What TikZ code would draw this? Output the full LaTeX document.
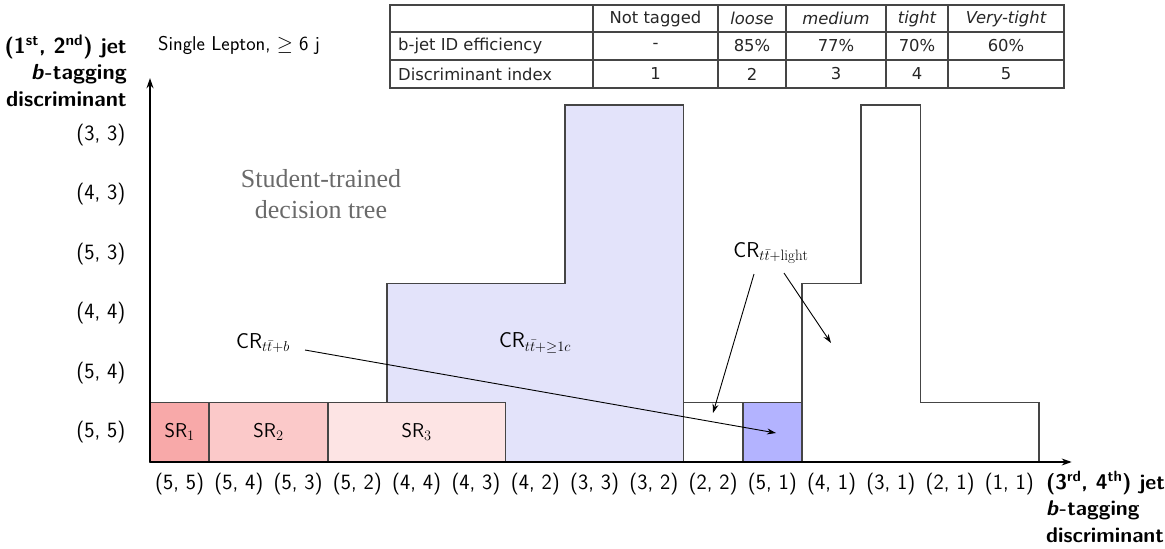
\documentclass[tikz,border=0pt]{standalone}
\usepackage{fontspec}
\newfontfamily\tabfont{DejaVu Sans}
\newfontfamily\notefont{Liberation Serif}
\usetikzlibrary{arrows.meta}

\definecolor{edge}{HTML}{454545}
\definecolor{srone}{HTML}{F8A9A9}
\definecolor{srtwo}{HTML}{FBC9C9}
\definecolor{srthree}{HTML}{FDE4E4}
\definecolor{ccfill}{HTML}{E3E3FA}
\definecolor{bfill}{HTML}{B3B3FF}
\definecolor{notegrey}{HTML}{6A6A6A}

\tikzset{
  region/.style={draw=edge, line width=1.7pt},
  lab/.style={font=\sffamily\fontsize{20}{24}\selectfont, inner sep=2pt},
  binlab/.style={font=\sffamily\fontsize{21.8}{26}\selectfont, inner sep=2pt},
  crlab/.style={font=\sffamily\fontsize{21.5}{26}\selectfont, inner sep=2pt},
  axistitle/.style={font=\sffamily\bfseries\fontsize{21.8}{26.5}\selectfont, inner sep=0pt},
  arr/.style={-{Stealth[length=9pt,width=6pt]}, line width=0.9pt},
  axisline/.style={-{Stealth[length=10pt,width=7pt]}, line width=1.1pt},
  tabline/.style={draw=edge, line width=1.2pt},
  tabtext/.style={font=\tabfont\fontsize{16.4}{19}\selectfont, text=black!85, inner sep=0pt},
}

\begin{document}
\begin{tikzpicture}[x=1pt, y=-1pt]
\useasboundingbox (0,0) rectangle (1165,549);

% ---------- tag-bin grid (one unit = one bin) ----------
\begin{scope}[xshift=150pt, yshift=-462pt, x=59.27pt, y=59.5pt]
  % ttbar + >=1c control region
  \path[region, fill=ccfill] (4,0) -- (4,3) -- (7,3) -- (7,6) -- (9,6) -- (9,0) -- cycle;
  % ttbar + light control region
  \path[region] (9,0) -- (9,1) -- (11,1) -- (11,3) -- (12,3) -- (12,6) -- (13,6) -- (13,1) -- (15,1) -- (15,0);
  % ttbar + b control region
  \path[region, fill=bfill] (10,0) rectangle (11,1);
  % signal regions
  \path[region, fill=srone]   (0,0) rectangle (1,1);
  \path[region, fill=srtwo]   (1,0) rectangle (3,1);
  \path[region, fill=srthree] (3,0) rectangle (6,1);
  \node[lab] (sr1) at (0.5,0.5) {SR$_1$};
  \node[lab] (sr2) at (2,0.5)   {SR$_2$};
  \node[lab] (sr3) at (4.5,0.5) {SR$_3$};

  % axes
  \coordinate (origin) at (0,0);
  \coordinate (yend) at (0,6.45);
  \coordinate (xend) at (15.55,0);
  \draw[axisline] (origin) -- (yend);
  \draw[axisline] (origin) -- (xend);

  % bin labels along the horizontal axis
  \foreach \t [count=\i from 0] in {(5, 5),(5, 4),(5, 3),(5, 2),(4, 4),(4, 3),(4, 2),(3, 3),(3, 2),(2, 2),(5, 1),(4, 1),(3, 1),(2, 1),(1, 1)}
    \node[binlab] (xl\i) at (\i+0.5,-0.37) {\t};
  % bin labels along the vertical axis
  \foreach \t [count=\j from 0] in {(5, 5),(5, 4),(4, 4),(5, 3),(4, 3),(3, 3)}
    \node[binlab, anchor=east] (yl\j) at (-0.38,\j+0.5) {\t};
\end{scope}

% ---------- axis titles ----------
\node[axistitle, align=right, anchor=east] (ytitle) at (127,71)
  {(1\textsuperscript{st}, 2\textsuperscript{nd}) jet\\\textit{b}-tagging\\discriminant};
\node[axistitle, align=left, anchor=north west, font=\sffamily\bfseries\fontsize{21.3}{26.5}\selectfont] (xtitle) at (1046,471)
  {(3\textsuperscript{rd}, 4\textsuperscript{th}) jet\\\textit{b}-tagging\\discriminant};
\node[lab, anchor=west] (channel) at (156,45) {Single Lepton, $\geq$ 6 j};

% ---------- region labels ----------
\node[font=\notefont\fontsize{26}{31}\selectfont, text=notegrey, align=center] (tree) at (321,194)
  {Student-trained\\decision tree};
\node[crlab] (crc) at (535,343) {CR$_{t\bar{t}+\geq 1c}$};
\node[crlab] (crb) at (263,343) {CR$_{t\bar{t}+b}$};
\node[crlab] (crl) at (771,253) {CR$_{t\bar{t}+\mathrm{light}}$};

\coordinate (tipb)  at (776,433);
\coordinate (tipl1) at (713,413);
\coordinate (tipl2) at (831,343);
\draw[arr] ([shift={(13,7)}]crb.east) -- (tipb);
\draw[arr] ([shift={(-17,8)}]crl.south) -- (tipl1);
\draw[arr] ([shift={(13,7)}]crl.south) -- (tipl2);

% ---------- working-point table ----------
\draw[tabline] (390,5) rectangle (1064,88);
\foreach \yy in {32,60} \draw[tabline] (390,\yy) -- (1064,\yy);
\foreach \xx in {593,718,786,886,948} \draw[tabline] (\xx,5) -- (\xx,88);

\node[tabtext, anchor=west] (r1) at (398,46) {b-jet ID efficiency};
\node[tabtext, anchor=west] (r2) at (398,74) {Discriminant index};
\foreach \cx/\head/\eff/\idx [count=\k] in
  {655.5/Not tagged/-/1, 752/\itshape loose/85\%/2, 836/\itshape medium/77\%/3,
   917/\itshape tight/70\%/4, 1006/\itshape Very-tight/60\%/5}{
  \node[tabtext] (h\k) at (\cx,18.5) {\head};
  \node[tabtext] (e\k) at (\cx,46) {\eff};
  \node[tabtext] (d\k) at (\cx,74) {\idx};
}
\end{tikzpicture}
\end{document}
